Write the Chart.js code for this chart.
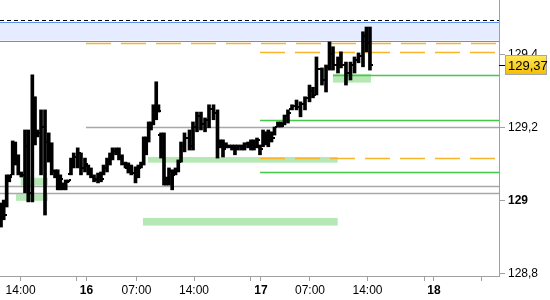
<!DOCTYPE html>
<html>
<head>
<meta charset="utf-8">
<script src="https://cdn.jsdelivr.net/npm/chart.js@4.4.1/dist/chart.umd.min.js"></script>
<style>
  html, body { margin: 0; padding: 0; background: #fff; }
  #wrap { width: 550px; height: 300px; }
</style>
</head>
<body>
<div id="wrap"><canvas id="chart"></canvas></div>
<script>
// bar times, hours counted from 15th 00:00
const time = [12.21, 12.58, 12.99, 13.35, 13.82, 14.18, 14.59, 15.01, 15.52, 15.97,
  16.53, 16.90, 17.24, 17.73, 18.28, 18.79, 19.20, 19.66, 20.03, 20.39,
  20.72, 21.13, 21.49, 21.86, 22.24, 22.79, 23.24, 23.79, 24.25, 24.62,
  25.04, 25.59, 26.00, 26.35, 26.83, 27.24, 27.59, 28.07, 28.48, 28.90,
  29.38, 29.77, 30.18, 30.76, 31.15, 31.52, 31.89, 32.24, 32.58, 32.90,
  33.22, 33.62, 33.93, 34.28, 34.69, 35.01, 35.38, 35.82, 36.28, 36.66,
  37.04, 37.52, 38.21, 38.69, 39.24, 39.79, 40.35, 40.90, 41.52, 42.07,
  42.42, 42.83, 43.24, 43.66, 44.07, 44.48, 44.90, 45.38, 45.79, 46.28,
  46.69, 47.10, 47.52, 47.93, 48.35, 48.72, 49.08, 49.52, 49.93, 50.41,
  50.83, 51.31, 51.79, 52.35, 52.97, 53.52, 54.14, 54.76, 55.24, 55.72,
  56.48, 57.04, 57.52, 58.00, 58.69, 59.10, 59.79, 60.41, 60.97, 61.52,
  62.14, 62.62, 63.10];
const high = [128.993, 129.001, 129.070, 129.070, 129.163, 129.160, 129.125, 129.078, 129.193, 129.193,
  129.344, 129.284, 129.193, 129.248, 129.248, 129.185, 129.158, 129.084, 129.084, 129.070,
  129.048, 129.056, 129.056, 129.116, 129.130, 129.144, 129.130, 129.116, 129.097, 129.089,
  129.070, 129.075, 129.078, 129.097, 129.116, 129.130, 129.144, 129.144, 129.144,
  129.125, 129.105, 129.103, 129.097, 129.092, 129.097, 129.105, 129.174, 129.174, 129.215,
  129.215, 129.262, 129.325, 129.262, 129.185, 129.185, 129.064, 129.089, 129.084, 129.089,
  129.111, 129.160, 129.185, 129.193, 129.215, 129.242, 129.242, 129.226, 129.262, 129.262,
  129.248, 129.166, 129.166, 129.158, 129.152, 129.152, 129.152, 129.152, 129.152, 129.158,
  129.160, 129.166, 129.166, 129.171, 129.152, 129.193, 129.188, 129.193, 129.188, 129.201,
  129.215, 129.215, 129.234, 129.248, 129.262, 129.275, 129.270, 129.284, 129.316, 129.310,
  129.393, 129.363, 129.371, 129.434, 129.421, 129.393, 129.407, 129.379, 129.379, 129.393,
  129.404, 129.462, 129.475, 129.475];
const low = [128.927, 128.947, 128.982, 129.051, 129.070, 129.097, 129.070, 129.064, 129.021, 128.996,
  128.996, 129.152, 129.174, 129.070, 128.960, 129.105, 129.070, 129.062, 129.029, 129.029,
  129.029, 129.029, 129.051, 129.070, 129.089, 129.089, 129.070, 129.078, 129.070, 129.062,
  129.051, 129.048, 129.051, 129.070, 129.078, 129.097, 129.111, 129.125, 129.111,
  129.097, 129.089, 129.075, 129.070, 129.048, 129.062, 129.089, 129.097, 129.125, 129.160,
  129.193, 129.207, 129.221, 129.242, 129.116, 129.042, 129.042, 129.042, 129.029, 129.070,
  129.078, 129.105, 129.133, 129.138, 129.138, 129.188, 129.193, 129.188, 129.199, 129.221,
  129.116, 129.144, 129.119, 129.144, 129.144, 129.138, 129.125, 129.138, 129.138, 129.138,
  129.144, 129.138, 129.138, 129.144, 129.125, 129.147, 129.152, 129.147, 129.160, 129.179,
  129.201, 129.201, 129.207, 129.212, 129.248, 129.248, 129.229, 129.248, 129.270, 129.281,
  129.289, 129.316, 129.297, 129.357, 129.357, 129.349, 129.363, 129.316, 129.330, 129.349,
  129.377, 129.366, 129.407, 129.357];
const open = [128.94, 128.98, 128.99, 129.06, 129.07, 129.15, 129.12, 129.075, 129.07, 129.15,
  129.02, 129.27, 129.18, 129.185, 129.20, 129.16, 129.13, 129.08, 129.07, 129.04,
  129.045, 129.035, 129.052, 129.072, 129.10, 129.12, 129.13, 129.09, 129.095, 129.075,
  129.065, 129.055, 129.07, 129.072, 129.09, 129.11, 129.125, 129.135, 129.14,
  129.12, 129.10, 129.09, 129.08, 129.075, 129.085, 129.09, 129.10, 129.16, 129.17,
  129.20, 129.21, 129.25, 129.255, 129.18, 129.13, 129.05, 129.06, 129.08, 129.07,
  129.085, 129.105, 129.15, 129.17, 129.15, 129.20, 129.23, 129.21, 129.22, 129.25,
  129.24, 129.15, 129.16, 129.14, 129.15, 129.145, 129.15, 129.14, 129.15, 129.145,
  129.155, 129.15, 129.16, 129.145, 129.15, 129.15, 129.185, 129.16, 129.185, 129.18,
  129.20, 129.21, 129.21, 129.23, 129.25, 129.26, 129.255, 129.265, 129.28, 129.30,
  129.29, 129.36, 129.33, 129.365, 129.40, 129.37, 129.39, 129.37, 129.35, 129.37,
  129.385, 129.395, 129.45, 129.43];
const close = [128.98, 128.96, 129.06, 129.065, 129.15, 129.12, 129.075, 129.07, 129.15, 129.02,
  129.27, 129.18, 129.185, 129.20, 129.16, 129.13, 129.08, 129.07, 129.04, 129.06,
  129.035, 129.05, 129.055, 129.10, 129.12, 129.13, 129.09, 129.10, 129.075, 129.065,
  129.06, 129.07, 129.06, 129.09, 129.11, 129.125, 129.135, 129.14, 129.12,
  129.10, 129.09, 129.08, 129.075, 129.085, 129.09, 129.10, 129.16, 129.17, 129.20,
  129.21, 129.25, 129.255, 129.245, 129.13, 129.05, 129.06, 129.08, 129.07, 129.085,
  129.105, 129.15, 129.17, 129.15, 129.20, 129.23, 129.21, 129.22, 129.25, 129.24,
  129.15, 129.16, 129.14, 129.15, 129.145, 129.15, 129.14, 129.15, 129.145, 129.155,
  129.15, 129.16, 129.145, 129.165, 129.14, 129.185, 129.16, 129.185, 129.17, 129.20,
  129.21, 129.205, 129.23, 129.24, 129.26, 129.255, 129.265, 129.28, 129.30, 129.29,
  129.36, 129.33, 129.365, 129.40, 129.37, 129.39, 129.37, 129.35, 129.37, 129.385,
  129.395, 129.45, 129.43, 129.37];

// axis ticks (hours from 15th 00:00) and labels
const xTickPos = [14.91, 22.69, 24.0, 30.9, 38.83, 46.69, 48.07, 54.83, 62.76, 70.62, 71.93, 78.5];
const xTickLabels = ['14:00', '', '16', '07:00', '14:00', '', '17', '07:00', '14:00', '', '18', ''];
const yTickPos = [128.8, 129, 129.2, 129.4];
const yTickLabels = ['128,8', '129', '129,2', '129,4'];
const boldLabels = ['16', '17', '18', '129'];

// levels and zones
const dashedLevel = 129.494;
const bandLow = 129.438;
const bandHigh = 129.489;
const orangeLevels = [129.431, 129.406, 129.116];
const orangeFrom = [23.93, 47.93, 47.93];
const greenLevels = [129.343, 129.2205, 129.077];
const greenFrom = [58.0, 47.93, 47.93];
const grayLevels = [129.2, 129.04, 129.02];
const grayFrom = [23.93, 12.0, 12.0];
const zoneFrom = [14.93, 14.28, 32.48, 31.79, 58.0];
const zoneTo = [18.69, 18.69, 58.65, 58.65, 63.24];
const zoneLow = [129.041, 128.999, 129.1035, 128.931, 129.3227];
const zoneHigh = [129.062, 129.017, 129.119, 128.952, 129.3466];
const lastPrice = 129.37;
const lastLabel = '129,37';

const FONT = 'Liberation Sans';

const hline = (ctx, x1, x2, y) => {
  ctx.beginPath();
  ctx.moveTo(x1, y);
  ctx.lineTo(x2, y);
  ctx.stroke();
};
const crisp = (v) => Math.round(v) + 0.5;

const overlays = {
  id: 'overlays',
  beforeDatasetsDraw(chart) {
    const { ctx, chartArea: a, scales: { x, y } } = chart;
    ctx.save();
    ctx.beginPath();
    ctx.rect(a.left, a.top, a.width, a.height);
    ctx.clip();

    // green zones
    ctx.fillStyle = '#b5e8b5';
    zoneFrom.forEach((f, i) => {
      const x1 = x.getPixelForValue(f), x2 = x.getPixelForValue(zoneTo[i]);
      const y1 = y.getPixelForValue(zoneHigh[i]), y2 = y.getPixelForValue(zoneLow[i]);
      ctx.fillRect(x1, y1, x2 - x1, y2 - y1);
    });

    // blue band
    const b1 = y.getPixelForValue(bandHigh), b2 = y.getPixelForValue(bandLow);
    ctx.fillStyle = '#e6ecff';
    ctx.fillRect(a.left, b1, a.width, b2 - b1);
    ctx.strokeStyle = '#5a8ff2';
    ctx.lineWidth = 1;
    hline(ctx, a.left, a.right, crisp(b1));
    hline(ctx, a.left, a.right, crisp(b2));

    // black dashed
    ctx.strokeStyle = '#000';
    ctx.setLineDash([4, 3]);
    hline(ctx, a.left, a.right, crisp(y.getPixelForValue(dashedLevel)));

    // gray levels
    ctx.setLineDash([]);
    ctx.strokeStyle = '#a8a8a8';
    ctx.lineWidth = 1.3;
    grayLevels.forEach((v, i) => hline(ctx, x.getPixelForValue(grayFrom[i]), a.right, crisp(y.getPixelForValue(v))));

    // green levels
    ctx.strokeStyle = '#45c845';
    greenLevels.forEach((v, i) => hline(ctx, x.getPixelForValue(greenFrom[i]), a.right, crisp(y.getPixelForValue(v))));

    // orange dashed levels
    ctx.strokeStyle = '#f7b52c';
    ctx.setLineDash([25, 10]);
    orangeLevels.forEach((v, i) => hline(ctx, x.getPixelForValue(orangeFrom[i]), a.right, crisp(y.getPixelForValue(v))));
    ctx.restore();
  },
  afterDatasetsDraw(chart) {
    // open / close ticks
    const { ctx, scales: { x, y } } = chart;
    ctx.save();
    ctx.fillStyle = '#000';
    time.forEach((t, i) => {
      const px = Math.round(x.getPixelForValue(t));
      ctx.fillRect(px - 3, Math.round(y.getPixelForValue(open[i])) - 1, 2, 2);
      ctx.fillRect(px + 1, Math.round(y.getPixelForValue(close[i])) - 1, 2, 2);
    });
    ctx.restore();
  },
  afterDraw(chart) {
    // last price marker on the right axis
    const { ctx, chartArea: a, scales: { y } } = chart;
    const py = Math.round(y.getPixelForValue(lastPrice));
    ctx.save();
    ctx.strokeStyle = '#000';
    ctx.lineWidth = 1;
    hline(ctx, a.right, a.right + 6, py + 0.5);
    const bx = a.right + 6, by = py - 10, bw = 42, bh = 20;
    const g = ctx.createLinearGradient(0, by, 0, by + bh);
    g.addColorStop(0, '#ffe95a');
    g.addColorStop(1, '#f3bd00');
    ctx.fillStyle = g;
    ctx.fillRect(bx, by, bw, bh);
    ctx.strokeStyle = '#a5a5a5';
    ctx.strokeRect(bx + 0.5, by + 0.5, bw - 1, bh - 1);
    ctx.fillStyle = '#000';
    ctx.font = '13px "' + FONT + '"';
    ctx.textBaseline = 'middle';
    ctx.fillText(lastLabel, bx + 3, py + 1);
    ctx.restore();
  }
};

const tickFont = (c) => ({
  family: FONT,
  size: 12,
  weight: c.tick && boldLabels.includes(c.tick.label) ? 'bold' : 'normal'
});

new Chart(document.getElementById('chart'), {
  type: 'bar',
  data: {
    datasets: [{
      data: time.map((t, i) => ({ x: t, y: [low[i], high[i]] })),
      backgroundColor: '#000',
      barThickness: 3,
      grouped: false
    }]
  },
  options: {
    responsive: true,
    maintainAspectRatio: false,
    animation: false,
    layout: { padding: 0 },
    plugins: { legend: { display: false }, tooltip: { enabled: false } },
    scales: {
      x: {
        type: 'linear',
        offset: false,
        min: 12.07,
        max: 80.9,
        grid: { drawOnChartArea: false, drawTicks: true, tickLength: 5, color: '#a0a0a0', offset: false },
        border: { display: true, color: '#a0a0a0' },
        afterBuildTicks: (s) => { s.ticks = xTickPos.map((v) => ({ value: v })); },
        afterFit: (s) => { s.height = 24; s.paddingLeft = 0; s.paddingRight = 0; },
        ticks: {
          autoSkip: false,
          maxRotation: 0,
          padding: 2,
          color: '#000',
          font: tickFont,
          callback: (v) => xTickLabels[xTickPos.indexOf(v)] ?? ''
        }
      },
      y: {
        type: 'linear',
        position: 'right',
        min: 128.793,
        max: 129.549,
        grid: { drawOnChartArea: false, drawTicks: true, tickLength: 6, color: '#a0a0a0' },
        border: { display: true, color: '#a0a0a0' },
        afterBuildTicks: (s) => { s.ticks = yTickPos.map((v) => ({ value: v })); },
        afterFit: (s) => { s.width = 51; s.paddingTop = 0; s.paddingBottom = 0; },
        ticks: {
          autoSkip: false,
          padding: 3,
          color: '#000',
          font: tickFont,
          callback: (v) => yTickLabels[yTickPos.indexOf(v)] ?? ''
        }
      }
    }
  },
  plugins: [overlays]
});
</script>
</body>
</html>
